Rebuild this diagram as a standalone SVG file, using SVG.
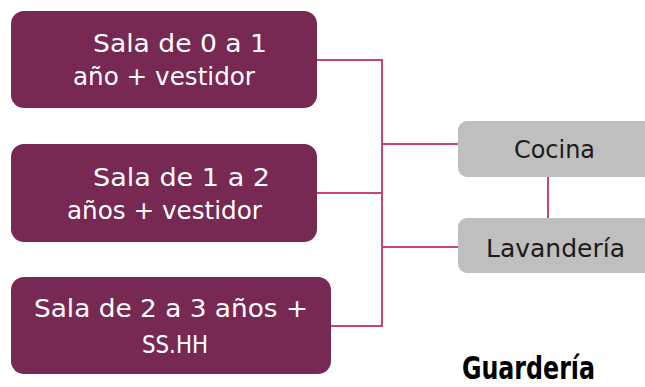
<svg xmlns="http://www.w3.org/2000/svg" width="645" height="387" viewBox="0 0 645 387">
<style>
.p{fill:#772853}
.g{fill:#bfbfbf}
.tw{fill:#ffffff;font-family:"DejaVu Sans","Liberation Sans",sans-serif;font-size:24px}
.tb{fill:#1a1a1a;font-family:"DejaVu Sans","Liberation Sans",sans-serif;font-size:24px}
.c{fill:none;stroke:#c9456f;stroke-width:2}
</style>
<rect width="645" height="387" fill="#ffffff"/>
<g id="connectors">
<polyline class="c" points="317,60 382,60 382,326 331,326"/>
<line class="c" x1="317" y1="193" x2="382" y2="193"/>
<line class="c" x1="382" y1="144" x2="459" y2="144"/>
<line class="c" x1="382" y1="247" x2="459" y2="247"/>
<line class="c" x1="548" y1="176" x2="548" y2="219"/>
</g>
<g id="sala01">
<rect class="p" x="11" y="11" width="306" height="97" rx="13"/>
<text class="tw" x="93" y="52" textLength="174" lengthAdjust="spacingAndGlyphs">Sala de 0 a 1</text>
<text class="tw" x="73" y="85" textLength="182" lengthAdjust="spacingAndGlyphs">año + vestidor</text>
</g>
<g id="sala12">
<rect class="p" x="11" y="144" width="306" height="98" rx="13"/>
<text class="tw" x="93" y="186" textLength="177" lengthAdjust="spacingAndGlyphs">Sala de 1 a 2</text>
<text class="tw" x="67" y="219" textLength="195" lengthAdjust="spacingAndGlyphs">años + vestidor</text>
</g>
<g id="sala23">
<rect class="p" x="11" y="277" width="320" height="97" rx="13"/>
<text class="tw" x="34" y="317" textLength="274" lengthAdjust="spacingAndGlyphs">Sala de 2 a 3 años +</text>
<text class="tw" x="142" y="353" textLength="66" lengthAdjust="spacingAndGlyphs">SS.HH</text>
</g>
<g id="cocina">
<rect class="g" x="458" y="121" width="195" height="56" rx="9"/>
<text class="tb" x="514" y="158" textLength="81" lengthAdjust="spacingAndGlyphs">Cocina</text>
</g>
<g id="lavanderia">
<rect class="g" x="458" y="218" width="195" height="55" rx="9"/>
<text class="tb" x="486" y="257" textLength="139" lengthAdjust="spacingAndGlyphs">Lavandería</text>
</g>
<text x="462" y="379" font-family="'DejaVu Sans Condensed','DejaVu Sans',sans-serif" font-weight="bold" font-size="32" fill="#000000" textLength="133" lengthAdjust="spacingAndGlyphs">Guardería</text>
</svg>
